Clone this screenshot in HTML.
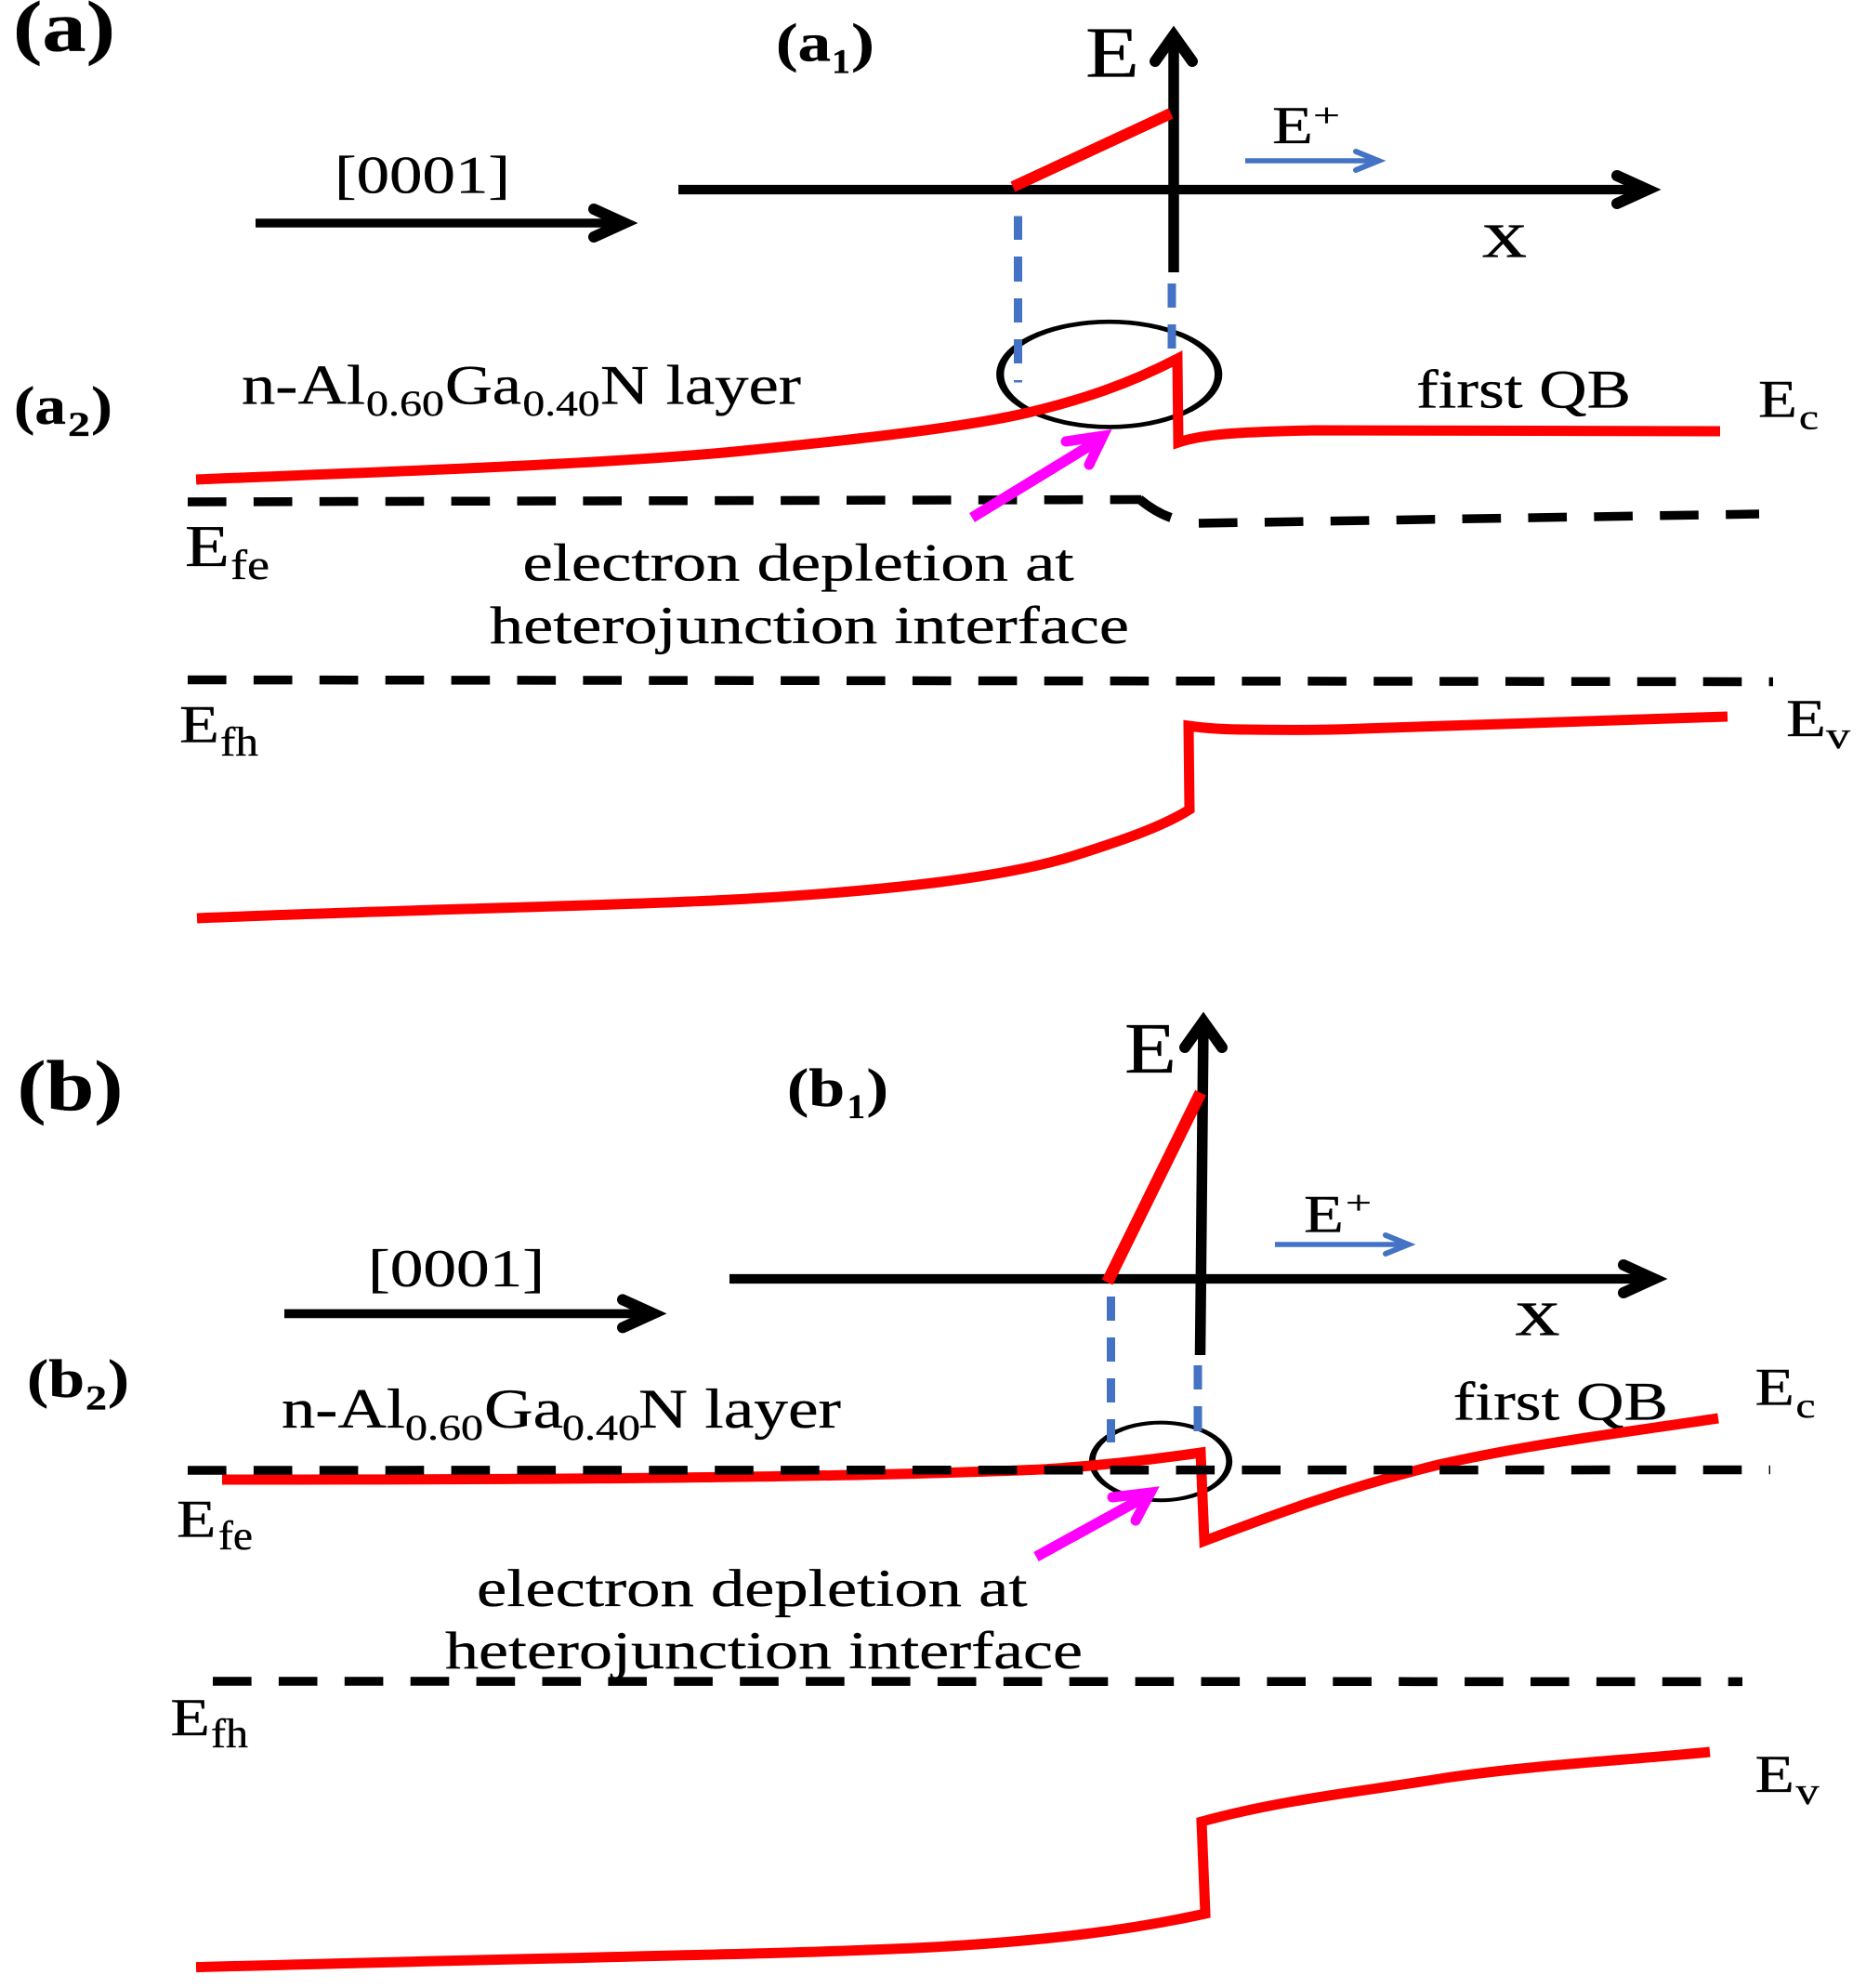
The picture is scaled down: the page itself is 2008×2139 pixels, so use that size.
<!DOCTYPE html>
<html><head><meta charset="utf-8"><title>Band diagram</title>
<style>
html,body{margin:0;padding:0;background:#fff}
svg{display:block}
text{font-family:"Liberation Serif",serif;fill:#000;stroke:#000;stroke-width:.35}
.b{font-weight:bold}
.r{fill:none;stroke:#f00;stroke-width:11;stroke-linejoin:miter;stroke-miterlimit:12}
.k{fill:none;stroke:#000;stroke-linejoin:miter;stroke-miterlimit:12}
.h{fill:none;stroke:#000;stroke-width:12;stroke-linecap:round;stroke-linejoin:miter;stroke-miterlimit:12}
.bl{fill:none;stroke:#4472C4;stroke-width:5.5}
.blh{fill:none;stroke:#4472C4;stroke-width:6;stroke-linecap:round;stroke-miterlimit:12}
.bd{stroke:#4472C4;stroke-width:9}
.d{fill:none;stroke:#000;stroke-width:9.5;stroke-dasharray:41.6 29.3}
.m{fill:none;stroke:#f0f;stroke-width:11.5}
.mh{fill:none;stroke:#f0f;stroke-width:11;stroke-linecap:round;stroke-linejoin:miter;stroke-miterlimit:12}
</style></head><body>
<svg xmlns="http://www.w3.org/2000/svg" width="2008" height="2139" viewBox="0 0 2008 2139">
<rect width="2008" height="2139" fill="#fff"/>

<!-- PANEL A -->
<text class="b" x="14" y="54.4" font-size="77" textLength="110" lengthAdjust="spacingAndGlyphs">(a)</text>
<text class="b" x="835" y="65.4" font-size="58" textLength="59" lengthAdjust="spacingAndGlyphs">(a</text>
<text class="b" x="895" y="78.5" font-size="37" textLength="20" lengthAdjust="spacingAndGlyphs">1</text>
<text class="b" x="916" y="65.4" font-size="58" textLength="25" lengthAdjust="spacingAndGlyphs">)</text>

<text x="360" y="207.7" font-size="57" textLength="189" lengthAdjust="spacingAndGlyphs">[0001]</text>
<line class="k" x1="275" y1="240" x2="672" y2="240" stroke-width="9.6"/>
<polyline class="h" points="639,225 672,240 639,255"/>

<line class="k" x1="730" y1="204" x2="1773" y2="204" stroke-width="10.3"/>
<polyline class="h" points="1740,189 1773,204 1740,219"/>
<line class="k" x1="1263" y1="38" x2="1263" y2="293" stroke-width="11.5"/>
<polyline class="h" points="1243,66 1263,38 1283,66" stroke-width="10.5"/>
<line x1="1090" y1="201" x2="1260" y2="122" stroke="#f00" stroke-width="12"/>

<text x="1168" y="82.6" font-size="77" textLength="58" lengthAdjust="spacingAndGlyphs">E</text>
<text x="1369" y="154" font-size="57" textLength="44" lengthAdjust="spacingAndGlyphs">E</text>
<text x="1413" y="136" font-size="36" textLength="29" lengthAdjust="spacingAndGlyphs">+</text>
<line class="bl" x1="1340" y1="173" x2="1483" y2="173"/>
<polyline class="blh" points="1459,163 1483.5,173 1459,183"/>
<text x="1595" y="276.5" font-size="74" textLength="48" lengthAdjust="spacingAndGlyphs">x</text>

<ellipse transform="translate(1193.7,402.8) scale(1.8,1)" rx="65.25" ry="56.6" fill="none" stroke="#000" stroke-width="4.6"/>
<g class="bd">
<line x1="1095.5" y1="232.5" x2="1095.5" y2="258"/>
<line x1="1095.5" y1="276" x2="1095.5" y2="303"/>
<line x1="1095.5" y1="321" x2="1095.5" y2="347"/>
<line x1="1095.5" y1="365" x2="1095.5" y2="391"/>
<line x1="1095.5" y1="409" x2="1095.5" y2="411.5"/>
<line x1="1261" y1="305" x2="1261" y2="331"/>
<line x1="1261" y1="349" x2="1261" y2="375"/>
</g>

<path class="r" d="M211,516 C400,508 650,500 800,485 C880,477 1030,462 1106,444 C1165,430 1215,413 1267,386 L1268,476 C1295,467 1330,465 1414,463 L1851,464"/>

<text x="260" y="434.6" font-size="60" textLength="133" lengthAdjust="spacingAndGlyphs">n-Al</text>
<text x="394" y="447" font-size="39" textLength="84" lengthAdjust="spacingAndGlyphs">0.60</text>
<text x="479" y="434.6" font-size="60" textLength="82" lengthAdjust="spacingAndGlyphs">Ga</text>
<text x="562.5" y="447" font-size="39" textLength="83" lengthAdjust="spacingAndGlyphs">0.40</text>
<text x="646" y="434.6" font-size="60" textLength="216" lengthAdjust="spacingAndGlyphs" xml:space="preserve">N layer</text>

<text class="b" x="15" y="456" font-size="58" textLength="56" lengthAdjust="spacingAndGlyphs">(a</text>
<text class="b" x="73" y="469" font-size="37" textLength="24" lengthAdjust="spacingAndGlyphs">2</text>
<text class="b" x="98" y="456" font-size="58" textLength="23" lengthAdjust="spacingAndGlyphs">)</text>

<text x="1524" y="438.5" font-size="58" textLength="231" lengthAdjust="spacingAndGlyphs">first QB</text>
<text x="1892" y="448.5" font-size="57" textLength="42" lengthAdjust="spacingAndGlyphs">E</text>
<text x="1936" y="461.5" font-size="38" textLength="21" lengthAdjust="spacingAndGlyphs">c</text>

<line class="d" x1="202" y1="540" x2="1228" y2="537.5"/>
<path d="M1226,537 Q1243,551 1260,557" fill="none" stroke="#000" stroke-width="10"/>
<line class="d" x1="1290" y1="563" x2="1893" y2="553"/>
<line class="d" x1="202" y1="731.5" x2="1908" y2="733.5"/>

<line class="m" x1="1046" y1="557" x2="1185" y2="472"/>
<polyline class="mh" points="1147,475 1187,469 1172,500"/>

<text x="199" y="609" font-size="64" textLength="48" lengthAdjust="spacingAndGlyphs">E</text>
<text x="248" y="623" font-size="46" textLength="42" lengthAdjust="spacingAndGlyphs">fe</text>
<text x="562.5" y="624.7" font-size="57" textLength="593" lengthAdjust="spacingAndGlyphs">electron depletion at</text>
<text x="527" y="692" font-size="57" textLength="688" lengthAdjust="spacingAndGlyphs">heterojunction interface</text>
<text x="193" y="798.6" font-size="57" textLength="43" lengthAdjust="spacingAndGlyphs">E</text>
<text x="237" y="813" font-size="44" textLength="41" lengthAdjust="spacingAndGlyphs">fh</text>
<text x="1922" y="792" font-size="57" textLength="43" lengthAdjust="spacingAndGlyphs">E</text>
<text x="1965" y="805" font-size="41" textLength="26" lengthAdjust="spacingAndGlyphs">v</text>

<path class="r" d="M212,988 C450,978 700,974 822,966 C950,958 1080,945 1158,920 C1205,905 1250,890 1280,871 L1279,781 C1300,784 1320,785 1343,785 C1400,786 1440,785 1465,784 L1859,771"/>

<!-- PANEL B -->
<text class="b" x="18.5" y="1194.3" font-size="77" textLength="114" lengthAdjust="spacingAndGlyphs">(b)</text>
<text class="b" x="847" y="1190" font-size="58" textLength="62" lengthAdjust="spacingAndGlyphs">(b</text>
<text class="b" x="911.5" y="1203" font-size="37" textLength="19.5" lengthAdjust="spacingAndGlyphs">1</text>
<text class="b" x="932.5" y="1190" font-size="58" textLength="23.5" lengthAdjust="spacingAndGlyphs">)</text>

<text x="396" y="1383.8" font-size="57" textLength="190" lengthAdjust="spacingAndGlyphs">[0001]</text>
<line class="k" x1="306" y1="1413.4" x2="703" y2="1413.4" stroke-width="9.6"/>
<polyline class="h" points="670,1398.4 703,1413.4 670,1428.4"/>

<line class="k" x1="785" y1="1376" x2="1780" y2="1376" stroke-width="10.3"/>
<polyline class="h" points="1747,1361 1780,1376 1747,1391"/>
<line class="k" x1="1295" y1="1100" x2="1291.5" y2="1458" stroke-width="11.5"/>
<polyline class="h" points="1275,1127 1295,1099 1315,1127" stroke-width="10.5"/>
<line x1="1191.6" y1="1379.6" x2="1292" y2="1175.7" stroke="#f00" stroke-width="13"/>

<text x="1210" y="1154" font-size="77" textLength="56" lengthAdjust="spacingAndGlyphs">E</text>
<text x="1403" y="1325.6" font-size="57" textLength="43" lengthAdjust="spacingAndGlyphs">E</text>
<text x="1448" y="1306" font-size="36" textLength="28" lengthAdjust="spacingAndGlyphs">+</text>
<line class="bl" x1="1372" y1="1339" x2="1515" y2="1339"/>
<polyline class="blh" points="1491,1329 1515.5,1339 1491,1349"/>
<text x="1630.5" y="1436.5" font-size="74" textLength="48" lengthAdjust="spacingAndGlyphs">x</text>

<text class="b" x="29" y="1503" font-size="58" textLength="62" lengthAdjust="spacingAndGlyphs">(b</text>
<text class="b" x="92" y="1516.7" font-size="37" textLength="23" lengthAdjust="spacingAndGlyphs">2</text>
<text class="b" x="116" y="1503" font-size="58" textLength="23" lengthAdjust="spacingAndGlyphs">)</text>

<text x="303" y="1536" font-size="60" textLength="133" lengthAdjust="spacingAndGlyphs">n-Al</text>
<text x="436" y="1549" font-size="39" textLength="84" lengthAdjust="spacingAndGlyphs">0.60</text>
<text x="521" y="1536" font-size="60" textLength="85" lengthAdjust="spacingAndGlyphs">Ga</text>
<text x="605" y="1549" font-size="39" textLength="84" lengthAdjust="spacingAndGlyphs">0.40</text>
<text x="687" y="1536" font-size="60" textLength="218" lengthAdjust="spacingAndGlyphs" xml:space="preserve">N layer</text>

<text x="1563.6" y="1527.7" font-size="58" textLength="231.4" lengthAdjust="spacingAndGlyphs">first QB</text>
<text x="1888.5" y="1511.5" font-size="57" textLength="42.5" lengthAdjust="spacingAndGlyphs">E</text>
<text x="1932.5" y="1525" font-size="38" textLength="21" lengthAdjust="spacingAndGlyphs">c</text>

<ellipse transform="translate(1249,1572.4) scale(1.7,1)" rx="43.4" ry="41.8" fill="none" stroke="#000" stroke-width="4"/>
<g class="bd">
<line x1="1195.5" y1="1395" x2="1195.5" y2="1421"/>
<line x1="1195.5" y1="1439" x2="1195.5" y2="1465"/>
<line x1="1195.5" y1="1483" x2="1195.5" y2="1509"/>
<line x1="1195.5" y1="1527" x2="1195.5" y2="1552"/>
<line x1="1289" y1="1469" x2="1289" y2="1495"/>
<line x1="1289" y1="1513" x2="1289" y2="1540"/>
</g>

<path class="r" d="M239,1592 C600,1592 900,1590 1122,1581 C1170,1578 1230,1572 1292,1563 L1296,1658 C1370,1630 1450,1600 1548,1576 C1650,1553 1750,1541 1849,1526"/>
<line class="d" x1="202" y1="1582" x2="1905" y2="1581.5"/>
<line class="d" x1="229" y1="1809" x2="1875" y2="1809.4"/>

<line class="m" x1="1115" y1="1675" x2="1235" y2="1609"/>
<polyline class="mh" points="1197,1611 1238,1606 1222,1636"/>

<text x="190" y="1653.4" font-size="57" textLength="42.5" lengthAdjust="spacingAndGlyphs">E</text>
<text x="235" y="1667" font-size="44" textLength="37" lengthAdjust="spacingAndGlyphs">fe</text>
<text x="513" y="1728" font-size="57" textLength="592.5" lengthAdjust="spacingAndGlyphs">electron depletion at</text>
<text x="479" y="1795" font-size="57" textLength="686" lengthAdjust="spacingAndGlyphs">heterojunction interface</text>
<text x="183.4" y="1867" font-size="57" textLength="42.6" lengthAdjust="spacingAndGlyphs">E</text>
<text x="227" y="1880" font-size="44" textLength="40" lengthAdjust="spacingAndGlyphs">fh</text>
<text x="1888.5" y="1928" font-size="57" textLength="42.5" lengthAdjust="spacingAndGlyphs">E</text>
<text x="1932.5" y="1941" font-size="41" textLength="25" lengthAdjust="spacingAndGlyphs">v</text>

<path class="r" d="M211,2116.6 C600,2106 850,2103 1004,2095 C1130,2088 1220,2076 1297,2059 L1293,1960 C1380,1936 1470,1927 1555,1913 C1650,1899 1750,1894 1840,1885"/>
</svg>
</body></html>
